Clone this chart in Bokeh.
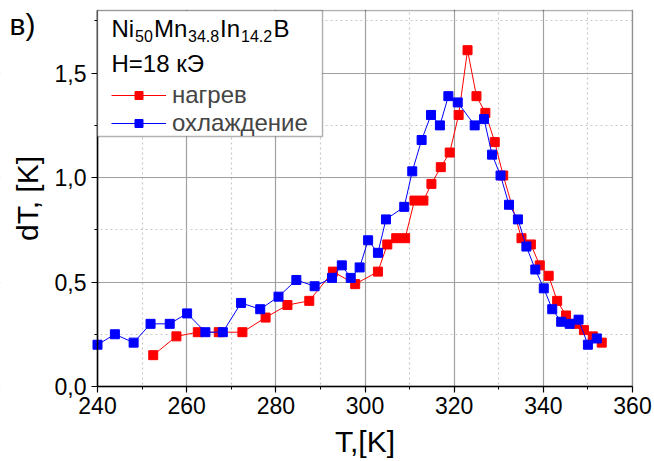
from bokeh.plotting import figure
from bokeh.models import (FixedTicker, Legend, LegendItem, BoxAnnotation, Label, Range1d,
                          LinearAxis)
from bokeh.embed import file_html
from bokeh.resources import INLINE

# heating (нагрев)
t_heat = [252.5, 257.7, 262.5, 267.2, 272.5, 277.7, 282.6, 287.5, 292.8, 297.8,
          302.9, 305.0, 307.0, 309.0, 311.1, 313.1, 314.9, 317.0, 319.0, 321.0,
          323.0, 325.0, 327.0, 329.1, 331.0, 335.1, 337.2, 339.2, 341.2, 343.1,
          345.1, 347.2, 349.1, 351.1, 353.1]
dt_heat = [0.15, 0.24, 0.26, 0.26, 0.26, 0.33, 0.39, 0.41, 0.55, 0.49,
           0.55, 0.68, 0.71, 0.71, 0.89, 0.89, 0.97, 1.05, 1.12, 1.30,
           1.61, 1.39, 1.31, 1.17, 1.01, 0.71, 0.68, 0.58, 0.53, 0.41,
           0.34, 0.30, 0.27, 0.24, 0.21]

# cooling (охлаждение)
t_cool = [240.0, 243.9, 248.1, 251.9, 256.2, 260.1, 264.2, 268.1, 272.2, 276.5,
          280.6, 284.6, 288.7, 292.6, 294.8, 296.8, 298.8, 300.7, 302.9, 304.7,
          308.8, 310.6, 312.7, 314.8, 316.8, 318.7, 320.8, 324.6, 326.7, 328.5,
          330.4, 332.3, 334.3, 336.2, 338.2, 340.1, 342.0, 344.0, 345.9, 347.9,
          350.0, 352.0]
dt_cool = [0.20, 0.25, 0.21, 0.30, 0.30, 0.35, 0.26, 0.26, 0.40, 0.37,
           0.43, 0.51, 0.48, 0.52, 0.58, 0.52, 0.57, 0.70, 0.64, 0.80,
           0.86, 1.03, 1.18, 1.30, 1.25, 1.39, 1.36, 1.25, 1.28, 1.11,
           1.01, 0.87, 0.80, 0.67, 0.56, 0.47, 0.37, 0.31, 0.30, 0.32,
           0.20, 0.23]

x_major = [240, 260, 280, 300, 320, 340, 360]
x_minor = [250, 270, 290, 310, 330, 350]
y_major = [0.0, 0.5, 1.0, 1.5]
y_minor = [0.25, 0.75, 1.25, 1.75]
y_labels = ["0,0", "0,5", "1,0", "1,5"]
x_lo, x_hi = 240, 360
y_lo, y_hi = 0.0, 1.8

FONT = "Liberation Sans"
W, H = 652, 459
PX_X = 4.458    # px per K
PX_Y = 208.9    # px per unit dT
LEFT_PX = 97    # canvas x of T=240
RIGHT_PX = 632  # canvas x of T=360
ZERO_PX = 386   # canvas y of dT=0
BOTTOM_PX = H - ZERO_PX

# the frame covers the canvas margins so that the panel letter and the axes
# (fixed at T=240 / dT=0) are drawn without clipping
p = figure(width=W, height=H, output_backend="svg", toolbar_location=None,
           x_range=Range1d(x_lo - LEFT_PX / PX_X, x_hi + (W - RIGHT_PX) / PX_X),
           y_range=Range1d(y_lo - BOTTOM_PX / PX_Y, y_hi + 1 / PX_Y),
           min_border_left=0, min_border_right=0, min_border_top=9, min_border_bottom=0)
p.background_fill_color = "white"
p.border_fill_color = "white"
p.outline_line_color = None

for ax, maj, mnr in ((p.xaxis[0], x_major, x_minor), (p.yaxis[0], y_major, y_minor)):
    ax.ticker = FixedTicker(ticks=maj, minor_ticks=mnr)
    ax.axis_line_color = "black"
    ax.axis_line_width = 1.5
    ax.major_tick_line_color = "black"
    ax.major_tick_line_width = 1.2
    ax.minor_tick_line_color = "black"
    ax.major_tick_in = 0
    ax.major_tick_out = 6
    ax.minor_tick_in = 0
    ax.minor_tick_out = 3
    ax.major_label_text_font = FONT
    ax.major_label_text_font_size = "23px"
    ax.major_label_text_color = "black"
    ax.axis_label_text_font = FONT
    ax.axis_label_text_font_style = "normal"
    ax.axis_label_text_font_size = "30px"
    ax.axis_label_text_color = "black"

p.xaxis[0].bounds = (x_lo, x_hi)
p.xaxis[0].fixed_location = y_lo
p.yaxis[0].bounds = (y_lo, y_hi)
p.yaxis[0].fixed_location = x_lo
p.yaxis[0].major_label_overrides = {v: s for v, s in zip(y_major, y_labels)}
p.yaxis[0].axis_label = "dT, [K]"
p.xaxis[0].major_label_standoff = 4
p.yaxis[0].major_label_standoff = 5
p.yaxis[0].axis_label_standoff = 8

# x-axis title as the single label of a bare second axis, centred under 240..360
x_mid = (x_lo + x_hi) / 2
xt = LinearAxis(ticker=FixedTicker(ticks=[x_mid]), major_label_overrides={x_mid: "T,[K]"},
                fixed_location=y_lo,
                axis_line_color=None, major_tick_line_color=None, minor_tick_line_color=None,
                major_tick_in=0, major_tick_out=0, major_label_standoff=38,
                major_label_text_font=FONT, major_label_text_font_size="30px",
                major_label_text_color="black")
p.add_layout(xt, "below")

for g in (p.xgrid[0], p.ygrid[0]):
    g.grid_line_color = "#a0a0a0"
    g.grid_line_width = 1.2
    g.minor_grid_line_color = "#c8c8c8"
    g.minor_grid_line_dash = "2 3"
    g.minor_grid_line_width = 1.2
p.xgrid[0].ticker = FixedTicker(ticks=x_major, minor_ticks=x_minor)
p.ygrid[0].ticker = FixedTicker(ticks=y_major, minor_ticks=y_minor)

# white covers over the grid outside the plotting area
p.add_layout(BoxAnnotation(right=x_lo, fill_color="white", fill_alpha=1.0,
                           line_color=None, level="underlay"))
p.add_layout(BoxAnnotation(left=x_hi, fill_color="white", fill_alpha=1.0,
                           line_color=None, level="underlay"))
p.add_layout(BoxAnnotation(top=y_lo, fill_color="white", fill_alpha=1.0,
                           line_color=None, level="underlay"))
# plotting-area outline
p.add_layout(BoxAnnotation(left=x_lo, right=x_hi, bottom=y_lo, top=y_hi,
                           fill_alpha=0, line_color="black", line_width=1.5,
                           level="underlay"))

lr = p.line(t_heat, dt_heat, line_color="#ff0000", line_width=1)
sr = p.scatter(t_heat, dt_heat, marker="square", size=9, fill_color="#ff0000",
               line_color="#ff0000")
lb = p.line(t_cool, dt_cool, line_color="#0000ff", line_width=1)
sb = p.scatter(t_cool, dt_cool, marker="square", size=9, fill_color="#0000ff",
               line_color="#0000ff")

# pixel -> data helpers for annotations
def dx(px):
    return x_lo + (px - LEFT_PX) / PX_X

def dy(py):
    return (ZERO_PX - py) / PX_Y

box = BoxAnnotation(left=x_lo, right=dx(322), bottom=dy(136), top=y_hi,
                    fill_color="white", fill_alpha=1.0, line_color="black", line_width=1.5)
p.add_layout(box)

def lab(txt, px, py, size):
    p.add_layout(Label(x=dx(px), y=dy(py), text=txt, text_font=FONT,
                       text_font_size=size, text_color="black",
                       text_baseline="alphabetic", text_align="left"))

big, small = "24px", "16px"
lab("Ni", 111, 28, big)
lab("50", 134.5, 35, small)
lab("Mn", 153.5, 28, big)
lab("34.8", 187.5, 35, small)
lab("In", 219.5, 28, big)
lab("14.2", 240.5, 35, small)
lab("B", 273, 28, big)
lab("H=18 кЭ", 111, 63, big)
lab("в)", 9, 24, "30px")

legend = Legend(items=[LegendItem(label="нагрев", renderers=[lr, sr]),
                       LegendItem(label="охлаждение", renderers=[lb, sb])],
                location=(14 + LEFT_PX, 249 + BOTTOM_PX), border_line_color=None,
                background_fill_alpha=0,
                label_text_font=FONT, label_text_font_size="24px",
                glyph_width=55, glyph_height=20, label_standoff=6,
                spacing=0, padding=0, margin=0)
p.add_layout(legend)

open("out.html", "w").write(file_html(p, INLINE))
